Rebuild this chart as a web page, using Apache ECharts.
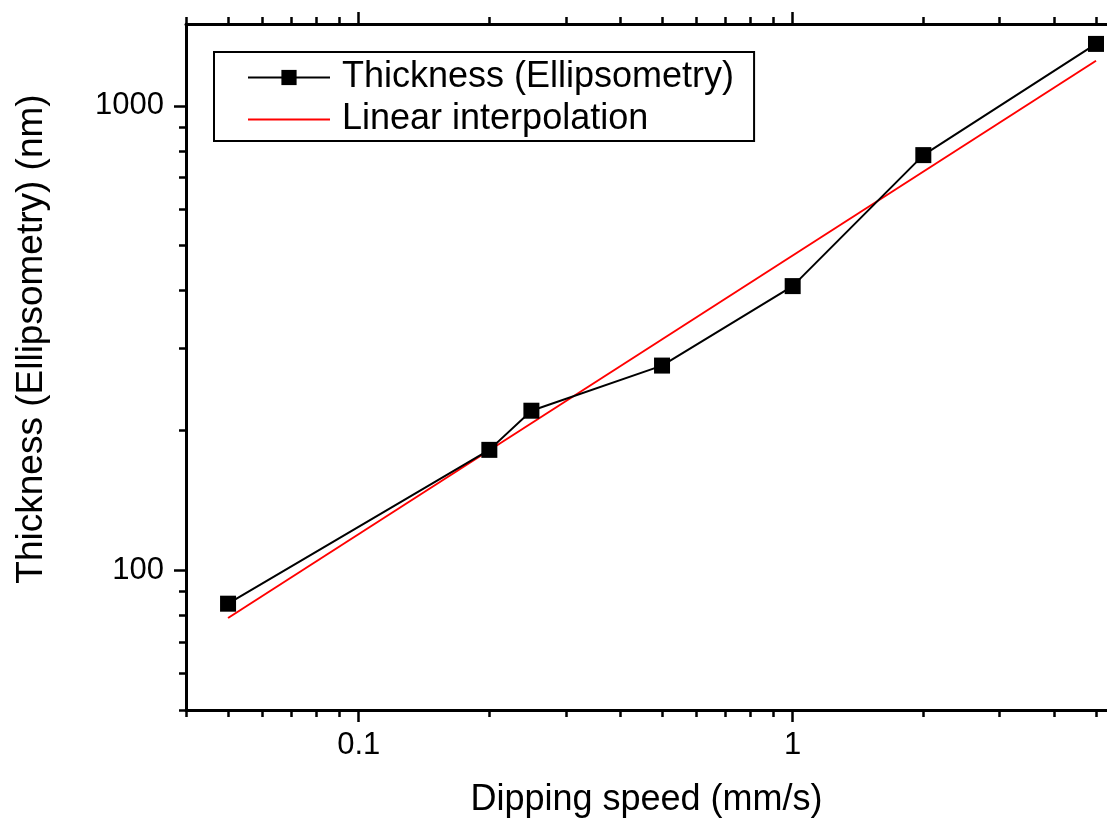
<!DOCTYPE html>
<html>
<head>
<meta charset="utf-8">
<script src="https://cdn.jsdelivr.net/npm/echarts@6/dist/echarts.min.js"></script>
<style>
  html, body { margin: 0; padding: 0; background: #fff; }
  #chart { width: 1107px; height: 824px; }
</style>
</head>
<body>
<div id="chart"></div>
<script>
// data
let speed = [0.05, 0.2, 0.25, 0.5, 1, 2, 5];
let thickness = [84.7, 181.6, 220.5, 275.8, 409, 783, 1359];
let fitSpeed = [0.05, 5];
let fitThickness = [78.9, 1250];

// tick positions (log axes)
let xMajor = [0.1, 1];
let xMinor = [0.04, 0.05, 0.06, 0.07, 0.08, 0.09, 0.2, 0.3, 0.4, 0.5, 0.6, 0.7, 0.8, 0.9, 2, 3, 4, 5];
let yMajor = [100, 1000];
let yMinor = [50, 60, 70, 80, 90, 200, 300, 400, 500, 600, 700, 800, 900];

let font = "'Liberation Sans', Arial, sans-serif";
let chart = echarts.init(document.getElementById('chart'));

function logAxis(pos, min, max, ticks, len, labels, showLine) {
	return {
		type: 'log',
		position: pos,
		min: min,
		max: max,
		axisLine: { show: showLine, onZero: false, lineStyle: { color: '#000', width: 3 } },
		axisTick: { show: true, inside: false, length: len, customValues: ticks, lineStyle: { color: '#000', width: 2.5 } },
		axisLabel: labels ? {
			show: true,
			customValues: labels,
			color: '#000',
			fontFamily: font,
			fontSize: 31,
			formatter: v => String(+Number(v).toPrecision(6))
		} : { show: false },
		splitLine: { show: false },
		minorTick: { show: false }
	};
}

let xBottom = logAxis('bottom', 0.04, 5.3, xMajor, 12, xMajor, true);
xBottom.axisLabel.margin = 20;
xBottom.name = 'Dipping speed (mm/s)';
xBottom.nameLocation = 'middle';
xBottom.nameGap = 72;
xBottom.nameTextStyle = { color: '#000', fontFamily: font, fontSize: 36 };

let yLeft = logAxis('left', 50, 1500, yMajor, 12, yMajor, true);
yLeft.axisLabel.margin = 22;
yLeft.name = 'Thickness (Ellipsometry) (nm)';
yLeft.nameLocation = 'middle';
yLeft.nameGap = 136;
yLeft.nameTextStyle = { color: '#000', fontFamily: font, fontSize: 37, padding: [0, 0, 0, 56] };

option = {
	animation: false,
	backgroundColor: '#fff',
	grid: { left: 186, right: 0, top: 24, bottom: 114 },
	legend: {
		orient: 'vertical',
		left: 214,
		top: 52,
		padding: [5, 20, 1, 33],
		borderColor: '#000',
		borderWidth: 2,
		itemWidth: 82,
		itemHeight: 19,
		itemGap: 1,
		textStyle: { color: '#000', fontFamily: font, fontSize: 36, lineHeight: 41, padding: [0, 0, 0, 7] },
		data: [
			{ name: 'Thickness (Ellipsometry)' },
			{ name: 'Linear interpolation', itemStyle: { opacity: 0 } }
		]
	},
	xAxis: [
		xBottom,
		logAxis('bottom', 0.04, 5.3, xMinor, 7, null, false),
		logAxis('top', 0.04, 5.3, xMajor, 12, null, true),
		logAxis('top', 0.04, 5.3, xMinor, 7, null, false)
	],
	yAxis: [
		yLeft,
		logAxis('left', 50, 1500, yMinor, 7, null, false)
	],
	series: [{
		name: 'Thickness (Ellipsometry)',
		type: 'line',
		xAxisIndex: 0,
		yAxisIndex: 0,
		data: speed.map((s, i) => [s, thickness[i]]),
		symbol: 'rect',
		symbolSize: 16,
		itemStyle: { color: '#000' },
		lineStyle: { color: '#000', width: 2 },
		z: 3
	}, {
		name: 'Linear interpolation',
		type: 'line',
		xAxisIndex: 0,
		yAxisIndex: 0,
		data: fitSpeed.map((s, i) => [s, fitThickness[i]]),
		symbol: 'none',
		itemStyle: { color: '#ff0000' },
		lineStyle: { color: '#ff0000', width: 2 },
		z: 2
	}]
};
chart.setOption(option, true);
</script>
</body>
</html>
